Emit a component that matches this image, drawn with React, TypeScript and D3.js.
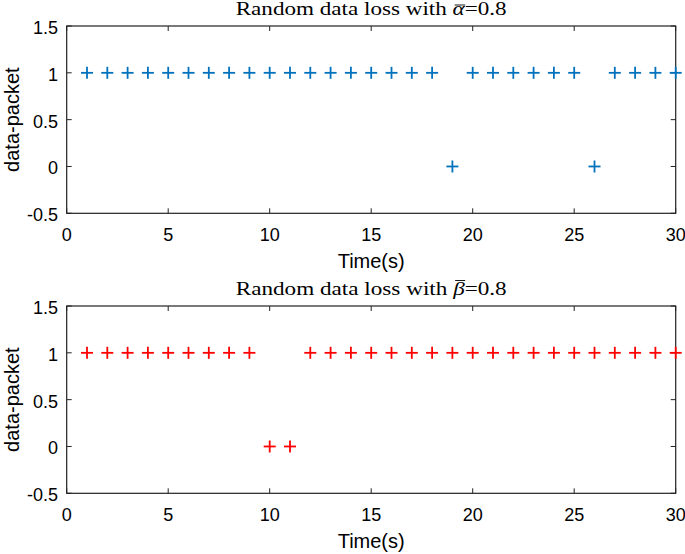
import React, { useRef, useLayoutEffect, useState } from "react";
import * as d3 from "d3";

const timesTop = d3.range(1, 31);
const valuesTop = [1,1,1,1,1,1,1,1,1,1,1,1,1,1,1,1,1,1,0,1,1,1,1,1,1,0,1,1,1,1];
const timesBottom = d3.range(1, 31);
const valuesBottom = [1,1,1,1,1,1,1,1,1,0,0,1,1,1,1,1,1,1,1,1,1,1,1,1,1,1,1,1,1,1];
const xTicks = [0, 5, 10, 15, 20, 25, 30];
const yTicks = [-0.5, 0, 0.5, 1, 1.5];

const W = 685, H = 554;
const left = 66.7, right = 675.7;
const sans = "'Liberation Sans', Arial, Helvetica, sans-serif";
const serif = "'Liberation Serif', 'DejaVu Serif', serif";

function Title({ y, sym, barOffset }: { y: number; sym: string; barOffset: number }) {
  const ref = useRef<SVGTextElement>(null);
  const [bar, setBar] = useState<{ x1: number; x2: number; y: number } | null>(null);
  const prefix = "Random data loss with ";
  useLayoutEffect(() => {
    const el = ref.current;
    if (!el) return;
    try {
      const r = el.getExtentOfChar(prefix.length);
      setBar({ x1: r.x + 2, x2: r.x + r.width + 0.5, y: y - barOffset });
    } catch (e) {}
  }, []);
  return (
    <g>
      <text ref={ref} x={(left + right) / 2} y={y} textAnchor="middle" fontFamily={serif} fontSize={18.5}
        textLength={271} lengthAdjust="spacingAndGlyphs" fill="#000">
        {prefix}<tspan fontStyle="italic">{sym}</tspan>=0.8
      </text>
      {bar && <line x1={bar.x1} x2={bar.x2} y1={bar.y} y2={bar.y} stroke="#000" strokeWidth={0.9} />}
    </g>
  );
}

function Panel({ top, bottom, times, values, color, sym, barOffset, titleY, xlabelY }:
  { top: number; bottom: number; times: number[]; values: number[]; color: string; sym: string; barOffset: number; titleY: number; xlabelY: number }) {
  const x = d3.scaleLinear().domain([0, 30]).range([left, right]);
  const y = d3.scaleLinear().domain([-0.5, 1.5]).range([bottom, top]);
  const tl = 5;
  const m = 6;
  return (
    <g>
      <Title y={titleY} sym={sym} barOffset={barOffset} />
      {xTicks.map((t) => (
        <g key={"x" + t}>
          <line x1={x(t)} x2={x(t)} y1={bottom} y2={bottom - tl} stroke="#222" strokeWidth={1} />
          <line x1={x(t)} x2={x(t)} y1={top} y2={top + tl} stroke="#222" strokeWidth={1} />
          <text x={x(t)} y={bottom + 28} textAnchor="middle" fontFamily={sans} fontSize={18} fill="#000">{t}</text>
        </g>
      ))}
      {yTicks.map((t) => (
        <g key={"y" + t}>
          <line x1={left} x2={left + tl} y1={y(t)} y2={y(t)} stroke="#222" strokeWidth={1} />
          <line x1={right} x2={right - tl} y1={y(t)} y2={y(t)} stroke="#222" strokeWidth={1} />
          <text x={58} y={y(t) + 8} textAnchor="end" fontFamily={sans} fontSize={18} fill="#000">{t}</text>
        </g>
      ))}
      <rect x={left} y={top} width={right - left} height={bottom - top} fill="none" stroke="#222" strokeWidth={1.2} />
      {times.map((t, i) => (
        <g key={"p" + i} stroke={color} strokeWidth={1.8}>
          <line x1={x(t) - m} x2={x(t) + m} y1={y(values[i])} y2={y(values[i])} />
          <line x1={x(t)} x2={x(t)} y1={y(values[i]) - m} y2={y(values[i]) + m} />
        </g>
      ))}
      <text x={(left + right) / 2} y={xlabelY} textAnchor="middle" fontFamily={sans} fontSize={20} fill="#000">Time(s)</text>
      <text transform={`translate(19,${(top + bottom) / 2}) rotate(-90)`} textAnchor="middle" fontFamily={sans} fontSize={20} fill="#000">data-packet</text>
    </g>
  );
}

export default function App() {
  return (
    <svg width={W} height={H} style={{ position: "absolute", left: 0, top: 0, background: "#fff" }}>
      <rect width={W} height={H} fill="#fff" />
      <Panel top={26} bottom={213.3} times={timesTop} values={valuesTop} color="#0072BD" sym={"\u03B1"} barOffset={10} titleY={15} xlabelY={268} />
      <Panel top={306} bottom={493.3} times={timesBottom} values={valuesBottom} color="#FF0000" sym={"\u03B2"} barOffset={14.5} titleY={295} xlabelY={548} />
    </svg>
  );
}
